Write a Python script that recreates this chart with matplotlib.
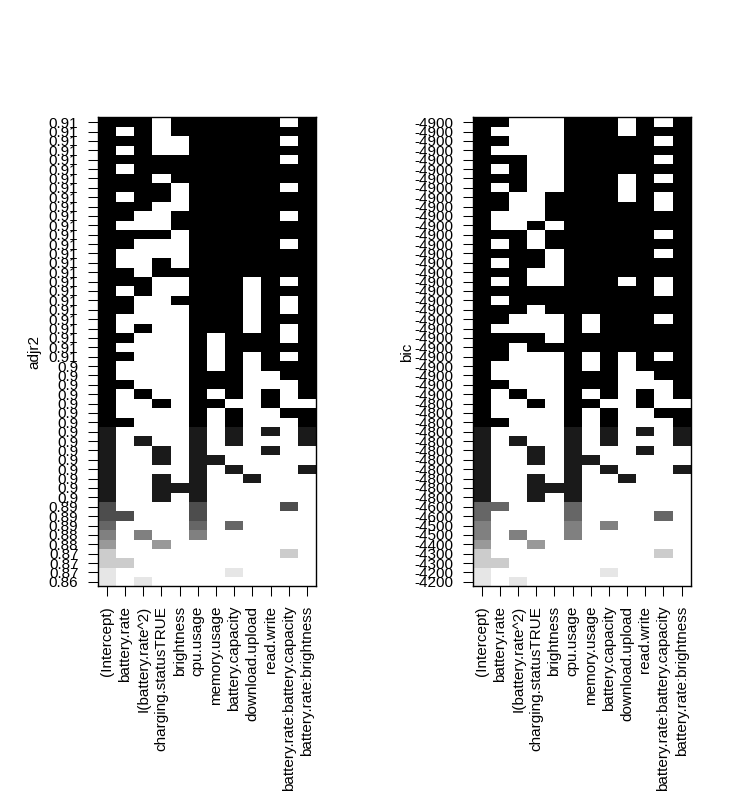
import numpy as np
import matplotlib
matplotlib.use("Agg")
from matplotlib import pyplot as plt
from matplotlib.colors import ListedColormap, BoundaryNorm

plt.rcParams['font.family'] = ['Liberation Sans', 'DejaVu Sans']

var_names = ["(Intercept)", "battery.rate", "I(battery.rate^2)",
             "charging.statusTRUE", "brightness", "cpu.usage", "memory.usage",
             "battery.capacity", "download.upload", "read.write",
             "battery.rate:battery.capacity", "battery.rate:brightness"]

# predictors in each subset (column numbers, the intercept is always in)
models = [
    [1, 2, 4, 5, 6, 7, 8, 9, 11],
    [2, 4, 5, 6, 7, 8, 9, 10, 11],
    [1, 2, 5, 6, 7, 8, 9, 11],
    [2, 5, 6, 7, 8, 9, 10, 11],
    [1, 2, 3, 4, 5, 6, 7, 8, 9, 11],
    [2, 3, 4, 5, 6, 7, 8, 9, 10, 11],
    [1, 2, 4, 5, 6, 7, 8, 9, 10, 11],
    [1, 2, 3, 5, 6, 7, 8, 9, 11],
    [2, 3, 5, 6, 7, 8, 9, 10, 11],
    [1, 2, 5, 6, 7, 8, 9, 10, 11],
    [1, 4, 5, 6, 7, 8, 9, 11],
    [4, 5, 6, 7, 8, 9, 10, 11],
    [1, 2, 3, 5, 6, 7, 8, 9, 10, 11],
    [1, 5, 6, 7, 8, 9, 11],
    [5, 6, 7, 8, 9, 10, 11],
    [3, 5, 6, 7, 8, 9, 10, 11],
    [1, 3, 4, 5, 6, 7, 8, 9, 10, 11],
    [1, 2, 5, 6, 7, 9, 11],
    [2, 5, 6, 7, 9, 10, 11],
    [1, 4, 5, 6, 7, 9, 11],
    [1, 5, 6, 7, 9, 11],
    [5, 6, 7, 9, 10, 11],
    [2, 5, 6, 7, 9, 11],
    [1, 5, 7, 8, 9, 11],
    [5, 7, 8, 9, 10, 11],
    [1, 5, 7, 9, 11],
    [5, 7, 9, 10, 11],
    [5, 6, 7, 10, 11],
    [1, 5, 6, 7, 11],
    [2, 5, 7, 9, 11],
    [3, 5, 6, 9],
    [5, 7, 10, 11],
    [1, 5, 7, 11],
    [5, 7, 9, 11],
    [2, 5, 7, 11],
    [3, 5, 9],
    [3, 5, 6],
    [5, 7, 11],
    [3, 5, 8],
    [3, 4, 5],
    [3, 5],
    [5, 10],
    [1, 5],
    [5, 7],
    [2, 5],
    [3],
    [10],
    [1],
    [7],
    [2],
]

adjr2 = [0.90680, 0.90674, 0.90665, 0.90660, 0.90651, 0.90646, 0.90637,
         0.90632, 0.90624, 0.90618, 0.90609, 0.90603, 0.90597, 0.90588,
         0.90583, 0.90575, 0.90569, 0.90560, 0.90555, 0.90548, 0.90541,
         0.90533, 0.90527, 0.90520, 0.90513, 0.90505, 0.90480, 0.90455,
         0.90430, 0.90390, 0.90340, 0.90290, 0.90250, 0.90190, 0.90150,
         0.90100, 0.90050, 0.90000, 0.89950, 0.89890, 0.89830, 0.89300,
         0.89200, 0.88750, 0.88300, 0.87850, 0.87050, 0.86900, 0.86600,
         0.86300]

bic = [-4881, -4879, -4896, -4894, -4869, -4867, -4865, -4877,
       -4875, -4873, -4887, -4885, -4859, -4900, -4898, -4883,
       -4857, -4893, -4891, -4889, -4904, -4902, -4871, -4863,
       -4861, -4856, -4855, -4853, -4852, -4851, -4848, -4840,
       -4835, -4828, -4820, -4810, -4800, -4790, -4780, -4772,
       -4760, -4580, -4600, -4520, -4490, -4420, -4300, -4280,
       -4220, -4165]

# gray(seq(0, 0.9, length=10))
grays = [str(g) for g in np.linspace(0, 0.9, 10)]


def signif2(v):
    return "%g" % float("%.2g" % v)


def plot_subsets(ax, crit, name):
    crit = np.array(crit, dtype=float)
    if name == "bic":
        order = np.argsort(-crit, kind="stable")
        colorscale = crit
    else:
        order = np.argsort(crit, kind="stable")
        colorscale = -np.log(crit)

    nmod, npar = len(models), len(var_names)
    which = np.zeros((nmod, npar), dtype=bool)
    which[:, 0] = True
    for i, m in enumerate(models):
        which[i, m] = True

    z = np.where(which[order], colorscale[order][:, None], np.nan)
    breaks = np.linspace(np.nanmin(z), np.nanmax(z), 11)
    cmap = ListedColormap(grays).with_extremes(bad="white", over=grays[-1])
    norm = BoundaryNorm(breaks, 10)
    ax.pcolormesh(np.arange(0.5, npar + 1), np.arange(0.5, nmod + 1),
                  np.ma.masked_invalid(z), cmap=cmap, norm=norm)

    ax.set_xlim(0.5, npar + 0.5)
    ax.set_ylim(0.5, nmod + 0.5)
    ax.set_xticks(np.arange(1, npar + 1))
    ax.set_xticklabels(var_names, rotation=90, fontsize=11)
    ax.set_yticks(np.arange(1, nmod + 1))
    ax.set_yticklabels([signif2(v) for v in crit[order]], fontsize=11)
    ax.tick_params(length=6.9, width=0.75, color="black", pad=7)
    for sp in ax.spines.values():
        sp.set_linewidth(1.0)


fig = plt.figure(figsize=(7.5, 8), dpi=100)
ax1 = fig.add_axes([0.1303, 0.2669, 0.2911, 0.5863])
ax2 = fig.add_axes([0.6303, 0.2669, 0.2907, 0.5863])

plot_subsets(ax1, adjr2, "adjr2")
plot_subsets(ax2, bic, "bic")

fig.text(34 / 750, 1 - 352 / 800, "adjr2", rotation=90, ha="center",
         va="center", fontsize=11)
fig.text(407 / 750, 1 - 352 / 800, "bic", rotation=90, ha="center",
         va="center", fontsize=11)

fig.savefig("out.png", dpi=100)
